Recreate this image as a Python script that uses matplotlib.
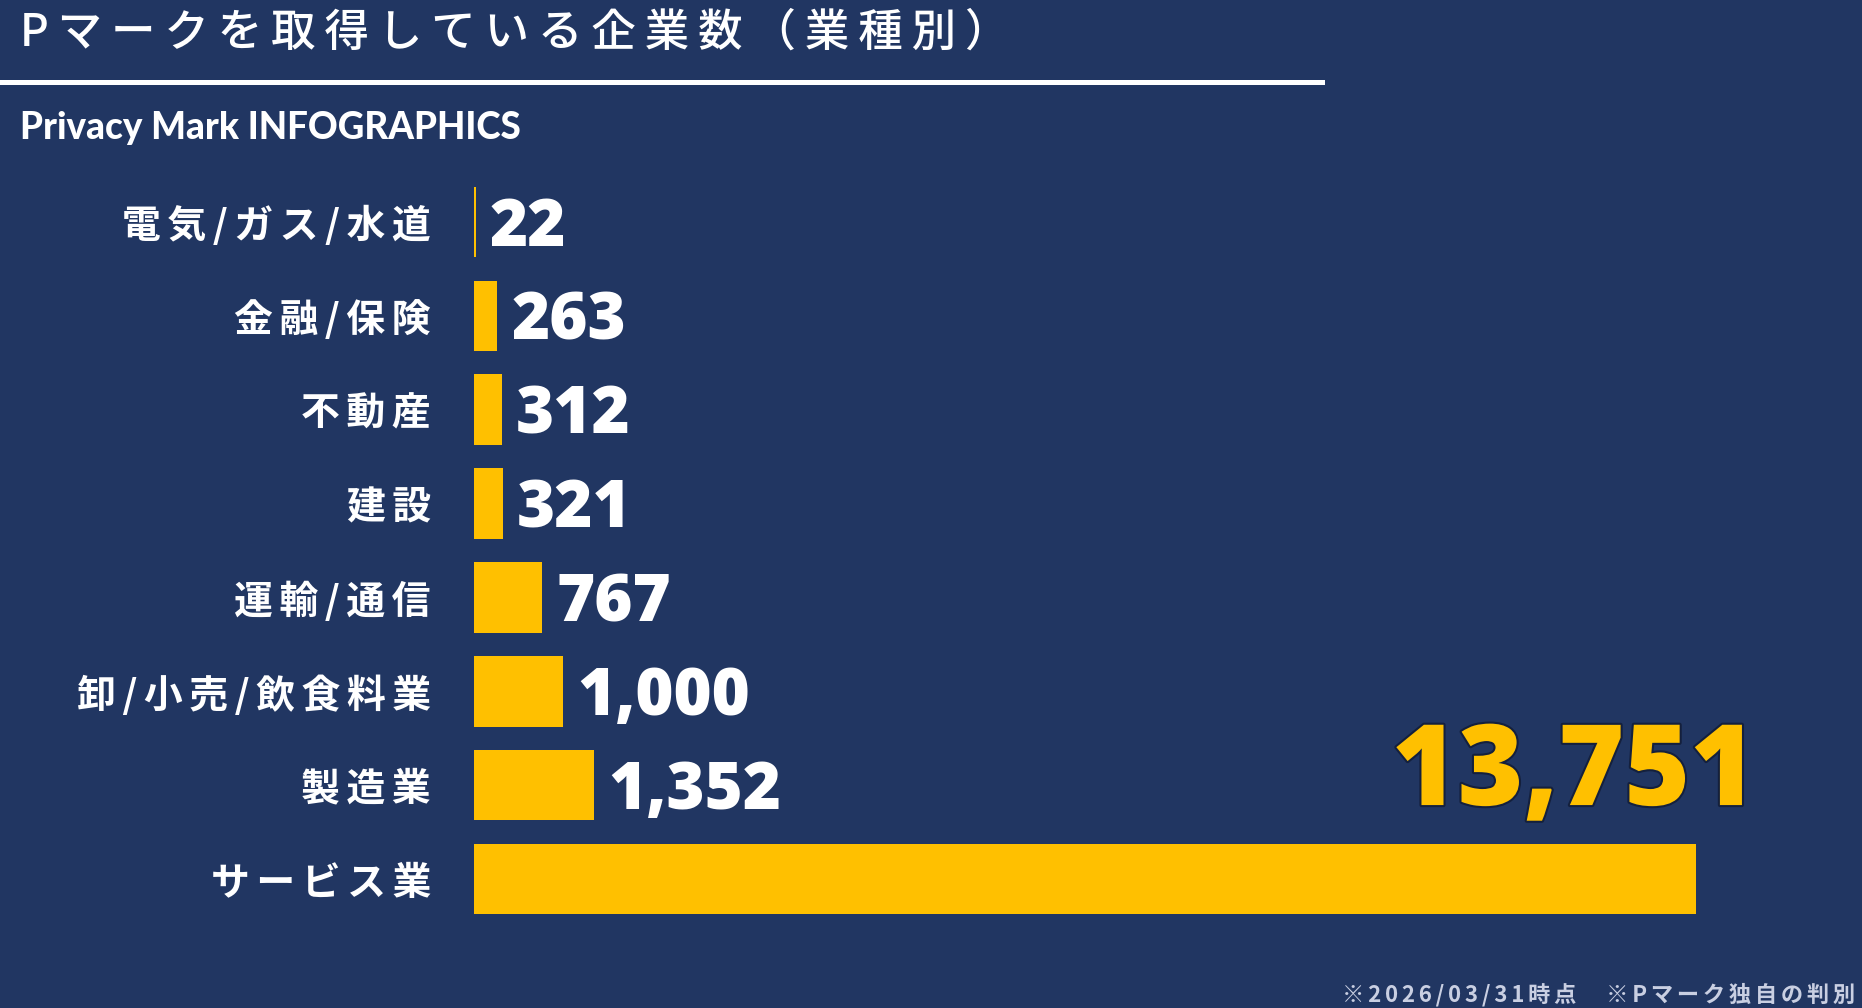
import matplotlib.pyplot as plt
import matplotlib.patheffects as pe
from matplotlib.lines import Line2D

# Data
categories = ["電気/ガス/水道", "金融/保険", "不動産", "建設", "運輸/通信",
              "卸/小売/飲食料業", "製造業", "サービス業"]
counts = [22, 263, 312, 321, 767, 1000, 1352, 13751]

title = "Pマークを取得している企業数（業種別）"
subtitle = "Privacy Mark INFOGRAPHICS"
footnote = "※2026/03/31時点　※Pマーク独自の判別"

# Colours
bg = "#213662"
gold = "#FFC000"
white = "#FFFFFF"

plt.rcParams['font.family'] = ['Noto Sans CJK JP', 'DejaVu Sans']

W, H = 1862, 1008
fig = plt.figure(figsize=(W / 100, H / 100), dpi=100, facecolor=bg)


def spaced(s, gap="\u2009"):
    # letter spacing like the original slide
    return gap.join(s)


# Title, rule and subtitle
fig.text(20 / W, 1 - 33 / H, spaced(title), color=white, fontsize=32,
         fontweight="medium", va="center", ha="left")
fig.add_artist(Line2D([0, 1322 / W], [1 - 82 / H, 1 - 82 / H],
                      color=white, linewidth=3.6, transform=fig.transFigure))
fig.text(20 / W, 1 - 128 / H, subtitle, color=white, fontsize=26.5,
         fontweight="black", family=['Lato', 'DejaVu Sans'],
         va="center", ha="left")

# Bars
ax = fig.add_axes([474 / W, 1 - 926 / H, 1244 / W, 751 / H])
ax.set_facecolor(bg)
ypos = list(range(len(categories)))
ax.barh(ypos, counts, height=0.75, color=gold, edgecolor="none")
ax.set_xlim(0, 14000)
ax.set_ylim(len(categories) - 0.5, -0.5)

ax.set_yticks(ypos)
ax.set_yticklabels([spaced(c, "\u2006") for c in categories])
ax.tick_params(axis="y", length=0, pad=31, labelsize=28, labelcolor=white)
for lab in ax.get_yticklabels():
    lab.set_fontweight("bold")
ax.set_xticks([])
for s in ax.spines.values():
    s.set_visible(False)

num_font = ['Open Sans', 'DejaVu Sans']
for i, v in enumerate(counts[:-1]):
    ax.annotate(f"{v:,}", xy=(v, i), xytext=(14, -24),
                textcoords="offset pixels", ha="left", va="baseline",
                color=white, fontsize=47, fontweight="heavy", family=num_font)

# Highlighted biggest value above its bar
big = ax.annotate(f"{counts[-1]:,}", xy=(counts[-1], len(counts) - 1),
                  xytext=(60, 74), textcoords="offset pixels",
                  ha="right", va="baseline", color=gold, fontsize=81,
                  fontweight="heavy", family=num_font)
big.set_path_effects([pe.withStroke(linewidth=3, foreground="#14203d")])

# Footnote
fig.text(1855 / W, 1 - 995 / H, spaced(footnote, "\u2006"), color="#c9cfe2",
         fontsize=16, fontweight="bold", ha="right", va="center")

fig.savefig("out.png", dpi=100, facecolor=bg)
